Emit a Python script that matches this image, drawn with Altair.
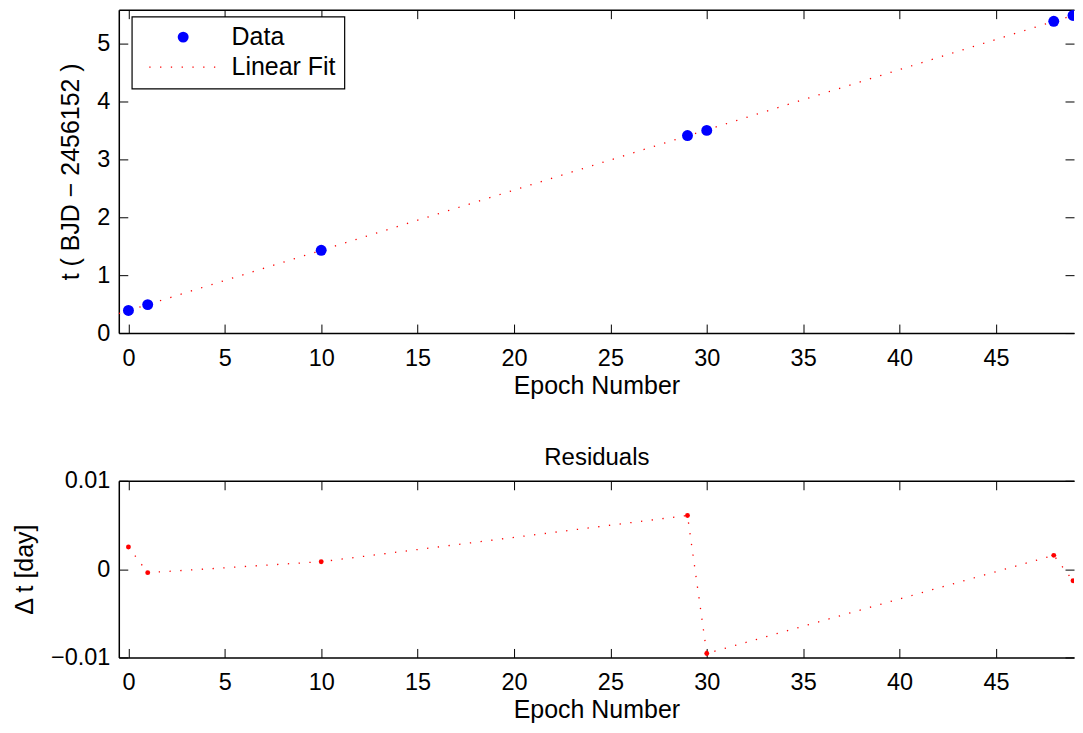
import altair as alt
import pandas as pd

# ---------------- data ----------------
epoch = [0, 1, 10, 29, 30, 48, 49]
t_bjd = [0.390, 0.491, 1.428, 3.408, 3.497, 5.379, 5.480]
residual = [0.0025, -0.0004, 0.00084, 0.00607, -0.00955, 0.00156, -0.00132]
fit_epoch = [-0.5, 49.5]
fit_t = [0.3355, 5.5335]

x_ticks = [0, 5, 10, 15, 20, 25, 30, 35, 40, 45]
top_y_ticks = [0, 1, 2, 3, 4, 5]
res_y_ticks = [-0.01, 0, 0.01]
series_names = ["Data", "Linear Fit"]

x_domain = [-0.5, 49.05]
top_y_domain = [0, 5.58]
res_y_domain = [-0.01, 0.01]

# ---------------- style ----------------
W = 957
H1 = 324
H2 = 177
FONT = "Liberation Sans"
FS_TICK = 23.5
FS_TITLE = 25
FS_LEG = 25
RED = "#ff0000"
BLUE = "#0000ff"
DOT = [1.3, 9.5]

pts = pd.DataFrame({"epoch": epoch, "t": t_bjd, "series": ["Data"] * len(epoch)})
fit = pd.DataFrame({"epoch": fit_epoch, "t": fit_t})
res = pd.DataFrame({"epoch": epoch, "res": residual})

xscale = alt.Scale(domain=x_domain, nice=False, zero=False)


def main_x():
    return alt.Axis(orient="bottom", values=x_ticks, format="d", title="Epoch Number",
                    ticks=False, tickSize=0, domain=True, domainColor="black",
                    domainWidth=1.5, labelPadding=13, titlePadding=4, grid=False)


def ticks_x_bottom(h):
    return alt.Axis(orient="top", offset=-h, values=x_ticks, labels=False, domain=False,
                    ticks=True, tickSize=9, tickWidth=1, tickColor="black", title=None, grid=False)


def ticks_x_top(h):
    return alt.Axis(orient="bottom", offset=-h, values=x_ticks, labels=False, domain=True,
                    domainColor="black", domainWidth=1.5,
                    ticks=True, tickSize=9, tickWidth=1, tickColor="black", title=None, grid=False)


def main_y(title, values, fmt):
    return alt.Axis(orient="left", values=values, format=fmt, title=title,
                    ticks=False, tickSize=0, domain=True, domainColor="black",
                    domainWidth=1.5, labelPadding=9, titlePadding=13, grid=False)


def ticks_y_left(values):
    return alt.Axis(orient="right", offset=-W, values=values, labels=False, domain=False,
                    ticks=True, tickSize=9, tickWidth=1, tickColor="black", title=None, grid=False)


def ticks_y_right(values):
    return alt.Axis(orient="left", offset=-W, values=values, labels=False, domain=False,
                    ticks=True, tickSize=9, tickWidth=1, tickColor="black", title=None, grid=False)


legend = alt.Legend(
    title=None, orient="none", legendX=13, legendY=7,
    direction="vertical",
    fillColor="white", strokeColor="black",
    padding=8, rowPadding=4,
    labelFont=FONT, labelFontSize=FS_LEG, labelColor="black", labelLimit=400,
    labelOffset=36, symbolOffset=31, symbolSize=120,
    symbolStrokeColor={"expr": "datum.value === 'Linear Fit' ? '#ff0000' : 'transparent'"},
    symbolDash=DOT, symbolStrokeWidth=1.3,
)
color_scale = alt.Scale(domain=series_names, range=[BLUE, RED])
shape_scale = alt.Scale(domain=series_names, range=["circle", "M-6.2,0L6.2,0"])

ytop = alt.Scale(domain=top_y_domain, nice=False, zero=False)
top_title = "t ( BJD \u2212 2456152 )"

top_fit = alt.Chart(fit).mark_line(color=RED, strokeWidth=1.3, strokeDash=DOT, clip=True).encode(
    x=alt.X("epoch:Q", scale=xscale, axis=main_x()),
    y=alt.Y("t:Q", scale=ytop, axis=main_y(top_title, top_y_ticks, "d")),
)
top_pts = alt.Chart(pts).mark_point(filled=True, size=120, opacity=1, clip=True).encode(
    x=alt.X("epoch:Q", scale=xscale, axis=ticks_x_bottom(H1)),
    y=alt.Y("t:Q", scale=ytop, axis=ticks_y_left(top_y_ticks)),
    color=alt.Color("series:N", scale=color_scale, legend=legend),
    shape=alt.Shape("series:N", scale=shape_scale, legend=legend),
)
top_ghost = alt.Chart(pts).mark_point(opacity=0, clip=True).encode(
    x=alt.X("epoch:Q", scale=xscale, axis=ticks_x_top(H1)),
    y=alt.Y("t:Q", scale=ytop, axis=ticks_y_right(top_y_ticks)),
)
top = alt.layer(top_fit, top_pts, top_ghost).resolve_axis(
    x="independent", y="independent").properties(width=W, height=H1)

yres = alt.Scale(domain=res_y_domain, nice=False, zero=False)
res_line = alt.Chart(res).mark_line(color=RED, strokeWidth=1.3, strokeDash=DOT, clip=True).encode(
    x=alt.X("epoch:Q", scale=xscale, axis=main_x()),
    y=alt.Y("res:Q", scale=yres, axis=main_y("\u0394 t [day]", res_y_ticks, ".2~f")),
)
res_pts = alt.Chart(res).mark_circle(color=RED, size=24, opacity=1, clip=True).encode(
    x=alt.X("epoch:Q", scale=xscale, axis=ticks_x_bottom(H2)),
    y=alt.Y("res:Q", scale=yres, axis=ticks_y_left(res_y_ticks)),
)
res_ghost = alt.Chart(res).mark_point(opacity=0, clip=True).encode(
    x=alt.X("epoch:Q", scale=xscale, axis=ticks_x_top(H2)),
    y=alt.Y("res:Q", scale=yres, axis=ticks_y_right(res_y_ticks)),
)
# the panel title, carried by a top axis that draws nothing else
res_title = alt.Chart(res).mark_point(opacity=0, clip=True).encode(
    x=alt.X("epoch:Q", scale=xscale,
            axis=alt.Axis(orient="top", title="Residuals", titleFontSize=24, titlePadding=11,
                          labels=False, ticks=False, domain=False, grid=False)),
    y=alt.Y("res:Q", scale=yres, axis=None),
)
bottom = alt.layer(res_line, res_pts, res_ghost, res_title).resolve_axis(
    x="independent", y="independent").properties(width=W, height=H2)

chart = alt.vconcat(top, bottom, spacing=47).properties(
    padding={"left": 4, "top": 0, "right": 0, "bottom": 0},
    background="white",
).configure_view(strokeWidth=0).configure_axis(
    labelFont=FONT, titleFont=FONT, labelFontSize=FS_TICK, titleFontSize=FS_TITLE,
    labelColor="black", titleColor="black", titleFontWeight="normal",
).configure_legend(strokeWidth=1.2, cornerRadius=0)

chart.save("out.html", embed_options={"renderer": "svg", "actions": False})
